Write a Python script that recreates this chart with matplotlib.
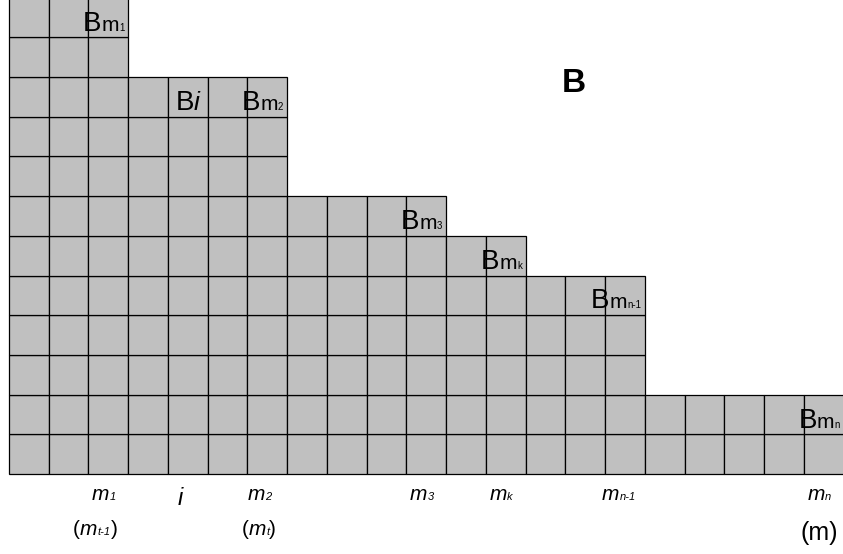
import matplotlib
matplotlib.use('Agg')
import matplotlib.pyplot as plt
from matplotlib.transforms import offset_copy

plt.rcParams['font.family'] = ['Liberation Sans', 'DejaVu Sans']

# высота каждого столбца (в клетках), слева направо
col_heights = [12, 12, 12, 10, 10, 10, 10, 7, 7, 7, 7, 6, 6, 5, 5, 5, 2, 2, 2, 2, 2]

# подписи в верхних клетках: столбец, основа, индекс
cell_cols = [2, 4, 6, 10, 12, 15, 20]
cell_main = ['m', 'i', 'm', 'm', 'm', 'm', 'm']
cell_sub = ['1', '', '2', '3', 'k', 'n-1', 'n']

# подписи под сеткой (первая строка)
low_x = [2.09, 4.25, 6.01, 10.09, 12.08, 14.92, 20.08]
low_main = ['m', 'i', 'm', 'm', 'm', 'm', 'm']
low_sub = ['1', '', '2', '3', 'k', 'n-1', 'n']

# вторая строка, в скобках
paren_x = [1.61, 5.86, 19.9]
paren_main = ['m', 'm', 'm']
paren_sub = ['t-1', 't', '']

GRAY = '#c0c0c0'

fig = plt.figure(figsize=(8.43, 5.54), dpi=100)
ax = fig.add_axes([9 / 843, 80 / 554, 834.75 / 843, 476.4 / 554])
ax.set_xlim(0, len(col_heights))
ax.set_ylim(0, max(col_heights))
ax.axis('off')

# клетки рисуем по рядам
for r in range(max(col_heights)):
    xs = [i for i, h in enumerate(col_heights) if h > r]
    ax.bar(xs, [1] * len(xs), width=1, bottom=r, align='edge',
           color=GRAY, edgecolor='black', linewidth=0.9, clip_on=False)

renderer = fig.canvas.get_renderer()


def put_parts(x, y, parts, align='left'):
    widths = []
    for s, size, style in parts:
        t = ax.text(0, 0, s, fontsize=size, style=style)
        widths.append(t.get_window_extent(renderer).width if s else 0)
        t.remove()
    pos = 0 if align == 'left' else -sum(widths)
    for (s, size, style), w in zip(parts, widths):
        if s:
            tr = offset_copy(ax.transData, fig=fig, x=pos, y=0, units='dots')
            ax.text(x, y, s, fontsize=size, style=style, transform=tr,
                    ha='left', va='baseline', clip_on=False)
        pos += w


for c, mn, sb in zip(cell_cols, cell_main, cell_sub):
    top = col_heights[c]
    if mn == 'i':
        parts = [('B', 20, 'normal'), ('i', 19, 'italic')]
        right = c + 1 - 0.2
    else:
        parts = [('B', 20, 'normal'), (mn, 15, 'normal'), (sb, 7, 'normal')]
        right = c + 1 - 0.1
    put_parts(right, top - 1 + 0.17, parts, align='right')

for x, mn, sb in zip(low_x, low_main, low_sub):
    if mn == 'i':
        put_parts(x, -0.78, [('i', 17, 'italic')])
    else:
        put_parts(x, -0.655, [(mn, 15, 'italic'), (sb, 8, 'italic')])

for x, mn, sb in zip(paren_x, paren_main, paren_sub):
    if sb:
        put_parts(x, -1.537, [('(', 15, 'normal'), (mn, 15, 'italic'),
                              (sb, 8, 'italic'), (')', 15, 'normal')])
    else:
        put_parts(x, -1.66, [('(' + mn + ')', 18, 'normal')])

ax.text(13.91, 9.62, 'B', fontsize=24, fontweight='bold',
        ha='left', va='baseline')

fig.savefig('out.png', dpi=100)
